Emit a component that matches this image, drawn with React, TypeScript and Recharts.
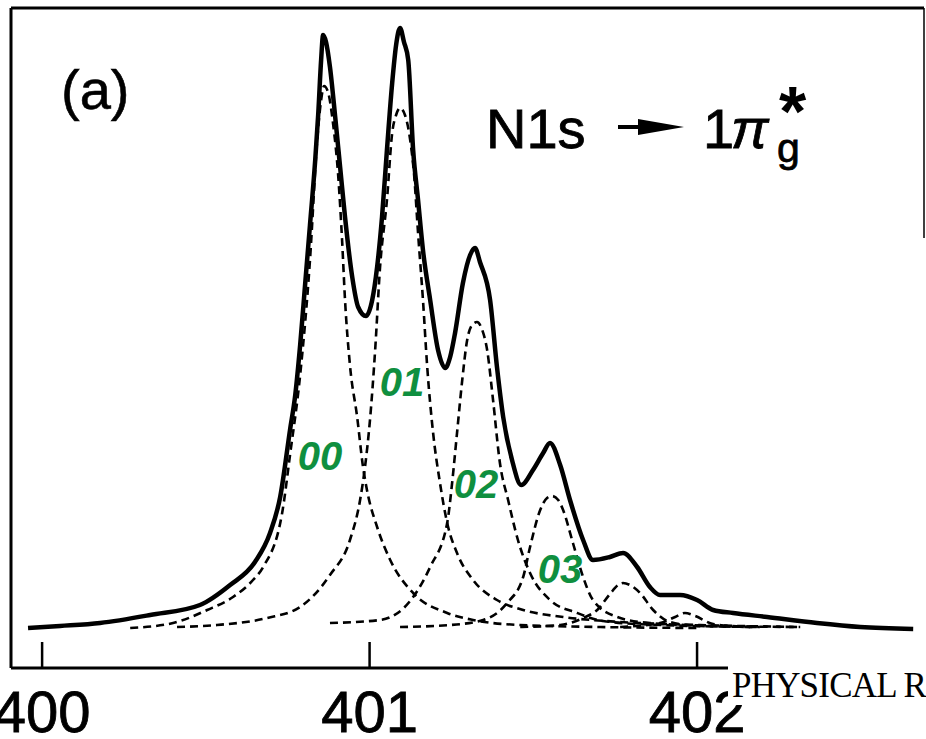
import { LineChart, Line, XAxis, YAxis, ReferenceLine } from "recharts";

// photon energy (eV) / intensity (arb. units)
const totalE = [
  399.957, 400.055, 400.177, 400.33, 400.482, 400.574, 400.65, 400.696, 400.727, 400.757,
  400.773, 400.788, 400.803, 400.818, 400.834, 400.843, 400.852, 400.858, 400.867, 400.879,
  400.895, 400.91, 400.925, 400.947, 400.965, 400.989, 401.008, 401.023, 401.038, 401.053,
  401.069, 401.081, 401.093, 401.105, 401.118, 401.133, 401.148, 401.163, 401.185, 401.209,
  401.231, 401.246, 401.261, 401.285, 401.307, 401.322, 401.337, 401.368, 401.389, 401.408,
  401.435, 401.463, 401.499, 401.53, 401.551, 401.582, 401.612, 401.652, 401.682, 401.734,
  401.774, 401.817, 401.856, 401.887, 401.948, 402.0, 402.049, 402.11, 402.214, 402.366,
  402.498, 402.66,
];
const totalI = [
  0.0, 0.2, 0.5, 1.3, 2.3, 4.3, 6.6, 9.5, 13.1, 19.8,
  23.3, 28.3, 34.3, 40.3, 46.8, 51.3, 56.8, 59.3, 58.6, 56.1,
  51.1, 46.1, 41.1, 35.1, 32.1, 31.2, 32.8, 36.1, 41.1, 47.8,
  54.5, 58.3, 60.0, 58.6, 56.8, 47.8, 42.8, 37.8, 32.8, 27.8,
  26.0, 27.1, 29.5, 34.5, 37.3, 38.0, 36.6, 32.8, 26.1, 21.1,
  16.8, 14.3, 15.8, 17.5, 18.5, 16.3, 12.8, 8.8, 6.8, 7.1,
  7.5, 6.1, 4.1, 3.3, 3.3, 2.8, 1.8, 1.5, 1.1, 0.5,
  0.1, -0.1,
];

const v00E = [400.269, 400.4, 400.504, 400.583, 400.644, 400.675, 400.733, 400.757, 400.788, 400.818, 400.84, 400.852, 400.861, 400.873, 400.889, 400.904, 400.916, 400.925, 400.94, 400.962, 400.98, 400.992, 401.023, 401.063, 401.133, 401.237, 401.316, 401.46, 401.704, 402.009];
const v00I = [0, 0.5, 1.8, 3.1, 4.8, 6.1, 11.5, 17.3, 25.3, 36.8, 48.8, 52.8, 54.2, 53.6, 50.3, 45.3, 38.8, 32.8, 26.3, 21.1, 16.1, 13.8, 10.1, 6.8, 3.5, 1.5, 0.8, 0.3, 0.1, 0];

const v01E = [400.412, 400.534, 400.687, 400.788, 400.879, 400.94, 400.971, 400.986, 401.002, 401.017, 401.032, 401.053, 401.069, 401.081, 401.093, 401.108, 401.124, 401.136, 401.148, 401.163, 401.176, 401.194, 401.215, 401.237, 401.267, 401.316, 401.389, 401.469, 401.591, 401.765, 402.009, 402.315];
const v01I = [0.1, 0.3, 1.0, 2.1, 5.3, 8.8, 12.8, 16.1, 21.1, 27.8, 36.1, 42.8, 49.5, 51.3, 52.0, 51.3, 48.8, 45.3, 39.5, 32.8, 26.1, 19.5, 14.5, 10.5, 7.5, 4.8, 2.8, 1.8, 1.1, 0.6, 0.3, 0.1];

const v02E = [400.879, 401.032, 401.133, 401.185, 401.237, 401.252, 401.267, 401.282, 401.298, 401.313, 401.328, 401.344, 401.359, 401.377, 401.398, 401.423, 401.453, 401.49, 401.551, 401.634, 401.713, 401.887, 402.192];
const v02I = [0.5, 0.8, 3.1, 6.1, 10.5, 14.5, 19.5, 24.5, 28.8, 30.3, 30.6, 29.8, 27.8, 22.8, 16.5, 12.8, 8.8, 5.5, 2.8, 1.5, 0.7, 0.3, 0.1];

const v03E = [401.093, 401.246, 401.347, 401.42, 401.469, 401.49, 401.521, 401.542, 401.557, 401.576, 401.591, 401.621, 401.652, 401.682, 401.756, 401.856, 402.07, 402.315];
const v03I = [0.1, 0.3, 0.8, 2.5, 5.1, 8.1, 11.8, 13.0, 13.2, 12.8, 11.8, 8.5, 5.1, 2.8, 1.1, 0.5, 0.2, 0.1];

const v04E = [401.46, 401.582, 401.652, 401.695, 401.734, 401.759, 401.774, 401.795, 401.826, 401.866, 401.918, 402.009, 402.192];
const v04I = [0.1, 0.3, 1.0, 1.8, 3.4, 4.3, 4.5, 4.3, 3.5, 1.8, 0.6, 0.2, 0.1];

const v05E = [401.765, 401.887, 401.933, 401.963, 401.994, 402.049, 402.162];
const v05I = [0.1, 0.5, 1.1, 1.5, 1.2, 0.4, 0.1];

const xTicks = [400, 401, 402];
const X_MIN = 399.905;
const X_MAX = 402.693;

const zip = (e: number[], i: number[]) => e.map((x, k) => ({ e: x, i: i[k] }));

const total = zip(totalE, totalI);
const components = [
  zip(v00E, v00I),
  zip(v01E, v01I),
  zip(v02E, v02I),
  zip(v03E, v03I),
  zip(v04E, v04I),
  zip(v05E, v05I),
];

const SANS = "'Liberation Sans', Arial, sans-serif";

function Tick(props: any) {
  const { x, y, payload } = props;
  return (
    <text x={x} y={y + 64} textAnchor="middle" fontFamily={SANS} fontSize={58} fill="#000" stroke="#000" strokeWidth={0.8}>
      {payload.value}
    </text>
  );
}

export default function App() {
  return (
    <div style={{ position: "absolute", left: 0, top: 0, width: 926, height: 739, overflow: "hidden", background: "#fff" }}>
      <LineChart width={926} height={739} margin={{ top: 8, right: 2, left: 11, bottom: 0 }}>
        <XAxis
          type="number"
          dataKey="e"
          domain={[X_MIN, X_MAX]}
          allowDataOverflow
          ticks={xTicks}
          height={71}
          tickSize={-26}
          tickMargin={26}
          tick={<Tick />}
          axisLine={{ stroke: "#000", strokeWidth: 3 }}
          tickLine={{ stroke: "#000", strokeWidth: 2.5 }}
        />
        <YAxis type="number" domain={[-4, 62]} hide width={0} allowDataOverflow />
        <ReferenceLine x={X_MIN} stroke="#000" strokeWidth={3} ifOverflow="visible" />
        <ReferenceLine y={62} stroke="#000" strokeWidth={3} ifOverflow="visible" />
        <ReferenceLine
          segment={[{ x: X_MAX, y: 62 }, { x: X_MAX, y: 39 }]}
          stroke="#000"
          strokeWidth={1.5}
          ifOverflow="visible"
        />
        {components.map((d, k) => (
          <Line
            key={k}
            data={d}
            dataKey="i"
            type="monotone"
            stroke="#000"
            strokeWidth={2.6}
            strokeDasharray="8 5"
            dot={false}
            isAnimationActive={false}
          />
        ))}
        <Line
          data={total}
          dataKey="i"
          type="monotone"
          stroke="#000"
          strokeWidth={4.5}
          dot={false}
          isAnimationActive={false}
        />
      </LineChart>

      <svg width={926} height={739} style={{ position: "absolute", left: 0, top: 0, pointerEvents: "none" }}>
        <text x={61} y={109} fontFamily={SANS} fontSize={56} fill="#000" stroke="#000" strokeWidth={0.6}>(a)</text>

        <text x={486} y={148} fontFamily={SANS} fontSize={56} fill="#000" stroke="#000" strokeWidth={0.8}>N1s</text>
        <line x1={618} y1={127} x2={650} y2={127} stroke="#000" strokeWidth={4} />
        <polygon points="638,119 684,127 638,135" fill="#000" />
        <text x={703} y={148} fontFamily={SANS} fontSize={56} fill="#000" stroke="#000" strokeWidth={0.8}>1</text>
        <text x={731} y={148} fontFamily={SANS} fontSize={56} fontStyle="italic" fill="#000" stroke="#000" strokeWidth={0.8}>π</text>
        <text x={777} y={162} fontFamily={SANS} fontSize={41} fill="#000" stroke="#000" strokeWidth={0.8}>g</text>
        <text x={779} y={136} fontFamily={SANS} fontSize={70} fontWeight="bold" fill="#000">*</text>

        <g fontFamily={SANS} fontSize={40} fontWeight="bold" fontStyle="italic" fill="#0f8f3f">
          <text x={320} y={470} textAnchor="middle">00</text>
          <text x={402} y={396} textAnchor="middle">01</text>
          <text x={476} y={498} textAnchor="middle">02</text>
          <text x={560} y={583} textAnchor="middle">03</text>
        </g>

        <rect x={728} y={665} width={198} height={40} fill="#fff" />
        <text
          x={732}
          y={697}
          fontFamily="'Liberation Serif', 'Times New Roman', serif"
          fontSize={35}
          letterSpacing={-0.8}
          fill="#000"
        >
          PHYSICAL RE
        </text>
      </svg>
    </div>
  );
}
